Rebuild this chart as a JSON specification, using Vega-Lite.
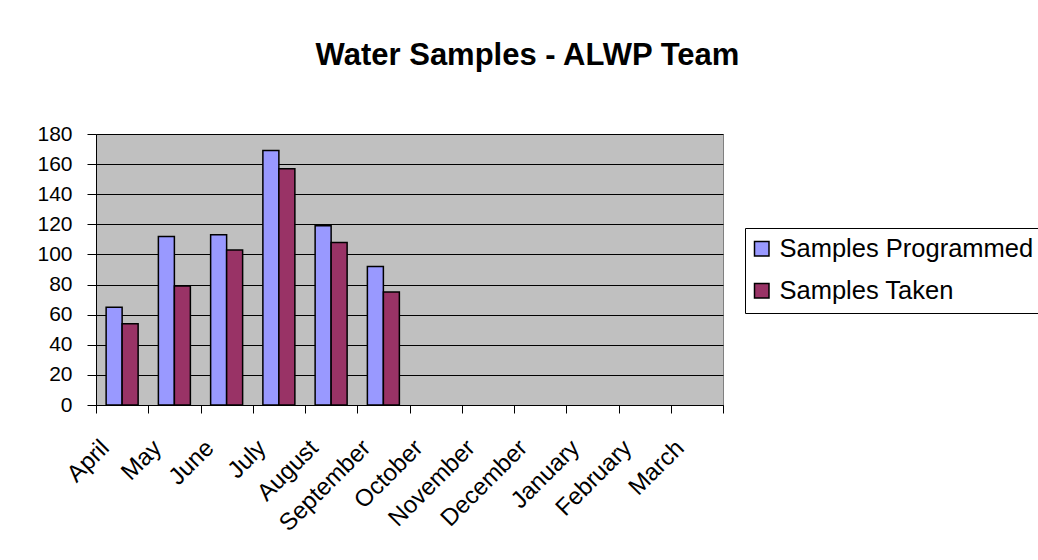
{
  "$schema": "https://vega.github.io/schema/vega-lite/v6.json",
  "width": 627,
  "height": 271,
  "autosize": {"type": "none"},
  "padding": {"left": 96, "top": 134, "right": 315, "bottom": 155},
  "background": "white",
  "title": {
    "text": "Water Samples - ALWP Team",
    "anchor": "middle",
    "frame": "group",
    "dx": 118,
    "offset": 27,
    "baseline": "alphabetic",
    "font": "Liberation Sans",
    "fontSize": 31,
    "fontWeight": "bold",
    "color": "black"
  },
  "data": {
    "values": [
      {"month": "April", "series": "Samples Programmed", "value": 65},
      {"month": "April", "series": "Samples Taken", "value": 54},
      {"month": "May", "series": "Samples Programmed", "value": 112},
      {"month": "May", "series": "Samples Taken", "value": 79},
      {"month": "June", "series": "Samples Programmed", "value": 113},
      {"month": "June", "series": "Samples Taken", "value": 103},
      {"month": "July", "series": "Samples Programmed", "value": 169},
      {"month": "July", "series": "Samples Taken", "value": 157},
      {"month": "August", "series": "Samples Programmed", "value": 119},
      {"month": "August", "series": "Samples Taken", "value": 108},
      {"month": "September", "series": "Samples Programmed", "value": 92},
      {"month": "September", "series": "Samples Taken", "value": 75}
    ]
  },
  "mark": {"type": "bar", "stroke": "black", "strokeWidth": 1.5},
  "encoding": {
    "x": {
      "field": "month",
      "type": "nominal",
      "sort": null,
      "scale": {
        "domain": ["April", "May", "June", "July", "August", "September", "October", "November", "December", "January", "February", "March"],
        "paddingInner": 0,
        "paddingOuter": 0
      },
      "axis": {
        "title": null,
        "labelAngle": -45,
        "labelAlign": "right",
        "labelBaseline": "middle",
        "labelFont": "Liberation Sans",
        "labelFontSize": 24,
        "labelColor": "black",
        "tickBand": "extent",
        "tickSize": 8,
        "tickColor": "black",
        "domainColor": "black",
        "labelPadding": 31,
        "labelOffset": -17,
        "grid": false
      }
    },
    "xOffset": {
      "field": "series",
      "type": "nominal",
      "sort": ["Samples Programmed", "Samples Taken"],
      "scale": {"paddingInner": 0, "paddingOuter": 0.633}
    },
    "y": {
      "field": "value",
      "type": "quantitative",
      "scale": {"domain": [0, 180], "nice": false},
      "axis": {
        "title": null,
        "values": [0, 20, 40, 60, 80, 100, 120, 140, 160, 180],
        "labelFont": "Liberation Sans",
        "labelFontSize": 21,
        "labelColor": "black",
        "tickSize": 9,
        "tickColor": "black",
        "domainColor": "black",
        "labelPadding": 15,
        "grid": true,
        "gridColor": "black",
        "gridOpacity": 1,
        "gridWidth": 1
      }
    },
    "color": {
      "field": "series",
      "type": "nominal",
      "scale": {"domain": ["Samples Programmed", "Samples Taken"], "range": ["#9999FF", "#993366"]},
      "legend": {
        "title": null,
        "orient": "none",
        "legendX": 649,
        "legendY": 94,
        "strokeColor": "black",
        "fillColor": "white",
        "padding": 8,
        "symbolType": "square",
        "symbolSize": 210,
        "symbolOffset": -4,
        "symbolStrokeColor": "black",
        "symbolStrokeWidth": 1.5,
        "labelFont": "Liberation Sans",
        "labelFontSize": 25.5,
        "labelColor": "black",
        "labelOffset": 5,
        "rowPadding": 15,
        "labelLimit": 400
      }
    }
  },
  "config": {
    "view": {"fill": "#C0C0C0", "stroke": "#808080", "strokeWidth": 1}
  }
}
